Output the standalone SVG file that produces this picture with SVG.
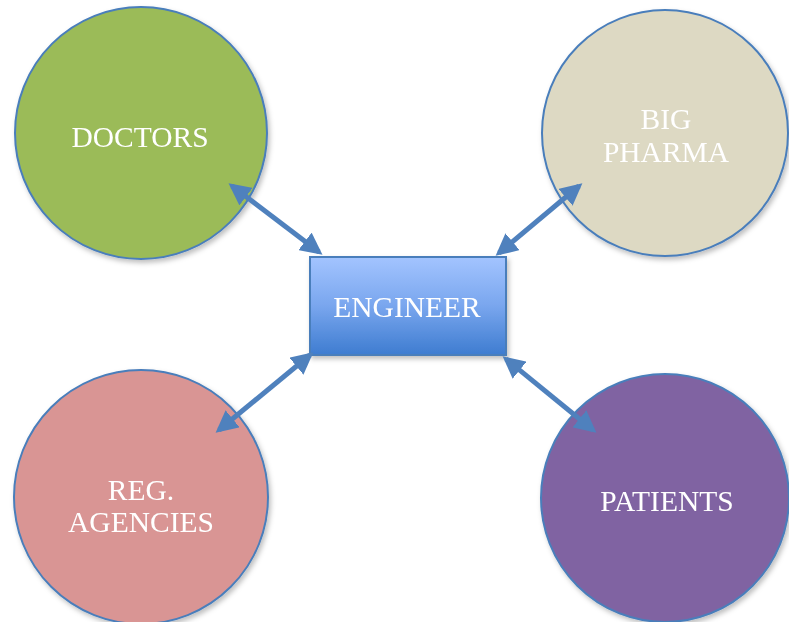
<svg xmlns="http://www.w3.org/2000/svg" width="789" height="622" viewBox="0 0 789 622">
  <defs>
    <style>
      .node { stroke: #4A7EBB; stroke-width: 2; }
      .label { font-family: "Liberation Serif", "Times New Roman", serif; font-size: 29.5px; fill: #FFFFFF; text-anchor: middle; }
      .link { stroke: #4F81BD; stroke-width: 5; fill: none; marker-start: url(#head); marker-end: url(#head); }
    </style>
    <linearGradient id="boxFill" x1="0" y1="0" x2="0" y2="1">
      <stop offset="0" stop-color="#A3C4FF"/>
      <stop offset="0.5" stop-color="#79A6EE"/>
      <stop offset="1" stop-color="#3E7CD0"/>
    </linearGradient>
    <marker id="head" viewBox="0 0 10 10" refX="8" refY="5" markerWidth="4.4" markerHeight="4.4" orient="auto-start-reverse" markerUnits="strokeWidth">
      <path d="M0,0 L10,5 L0,10 z" fill="#4F81BD"/>
    </marker>
    <filter id="shadow" x="-10%" y="-10%" width="125%" height="125%">
      <feDropShadow dx="2" dy="3" stdDeviation="2.5" flood-color="#000" flood-opacity="0.25"/>
    </filter>
  </defs>

  <g id="doctors" filter="url(#shadow)">
    <circle class="node" cx="141" cy="133" r="126" fill="#9BBB59"/>
    <text class="label" x="140" y="147">DOCTORS</text>
  </g>

  <g id="big-pharma" filter="url(#shadow)">
    <circle class="node" cx="665" cy="133" r="123" fill="#DDD9C3"/>
    <text class="label" x="666" y="129">BIG</text>
    <text class="label" x="666" y="162">PHARMA</text>
  </g>

  <g id="reg-agencies" filter="url(#shadow)">
    <circle class="node" cx="141" cy="497" r="127" fill="#D99594"/>
    <text class="label" x="141" y="500">REG.</text>
    <text class="label" x="141" y="532">AGENCIES</text>
  </g>

  <g id="patients" filter="url(#shadow)">
    <circle class="node" cx="665" cy="498" r="124" fill="#8064A2"/>
    <text class="label" x="667" y="511">PATIENTS</text>
  </g>

  <g id="engineer" filter="url(#shadow)">
    <rect class="node" x="310" y="257" width="196" height="98" fill="url(#boxFill)" stroke-width="1.5"/>
    <text class="label" x="407" y="317">ENGINEER</text>
  </g>

  <g id="connectors">
    <line class="link" x1="232" y1="186" x2="319" y2="252"/>
    <line class="link" x1="579" y1="186" x2="499" y2="253"/>
    <line class="link" x1="310" y1="355" x2="219" y2="430"/>
    <line class="link" x1="506" y1="359" x2="593" y2="430"/>
  </g>
</svg>
